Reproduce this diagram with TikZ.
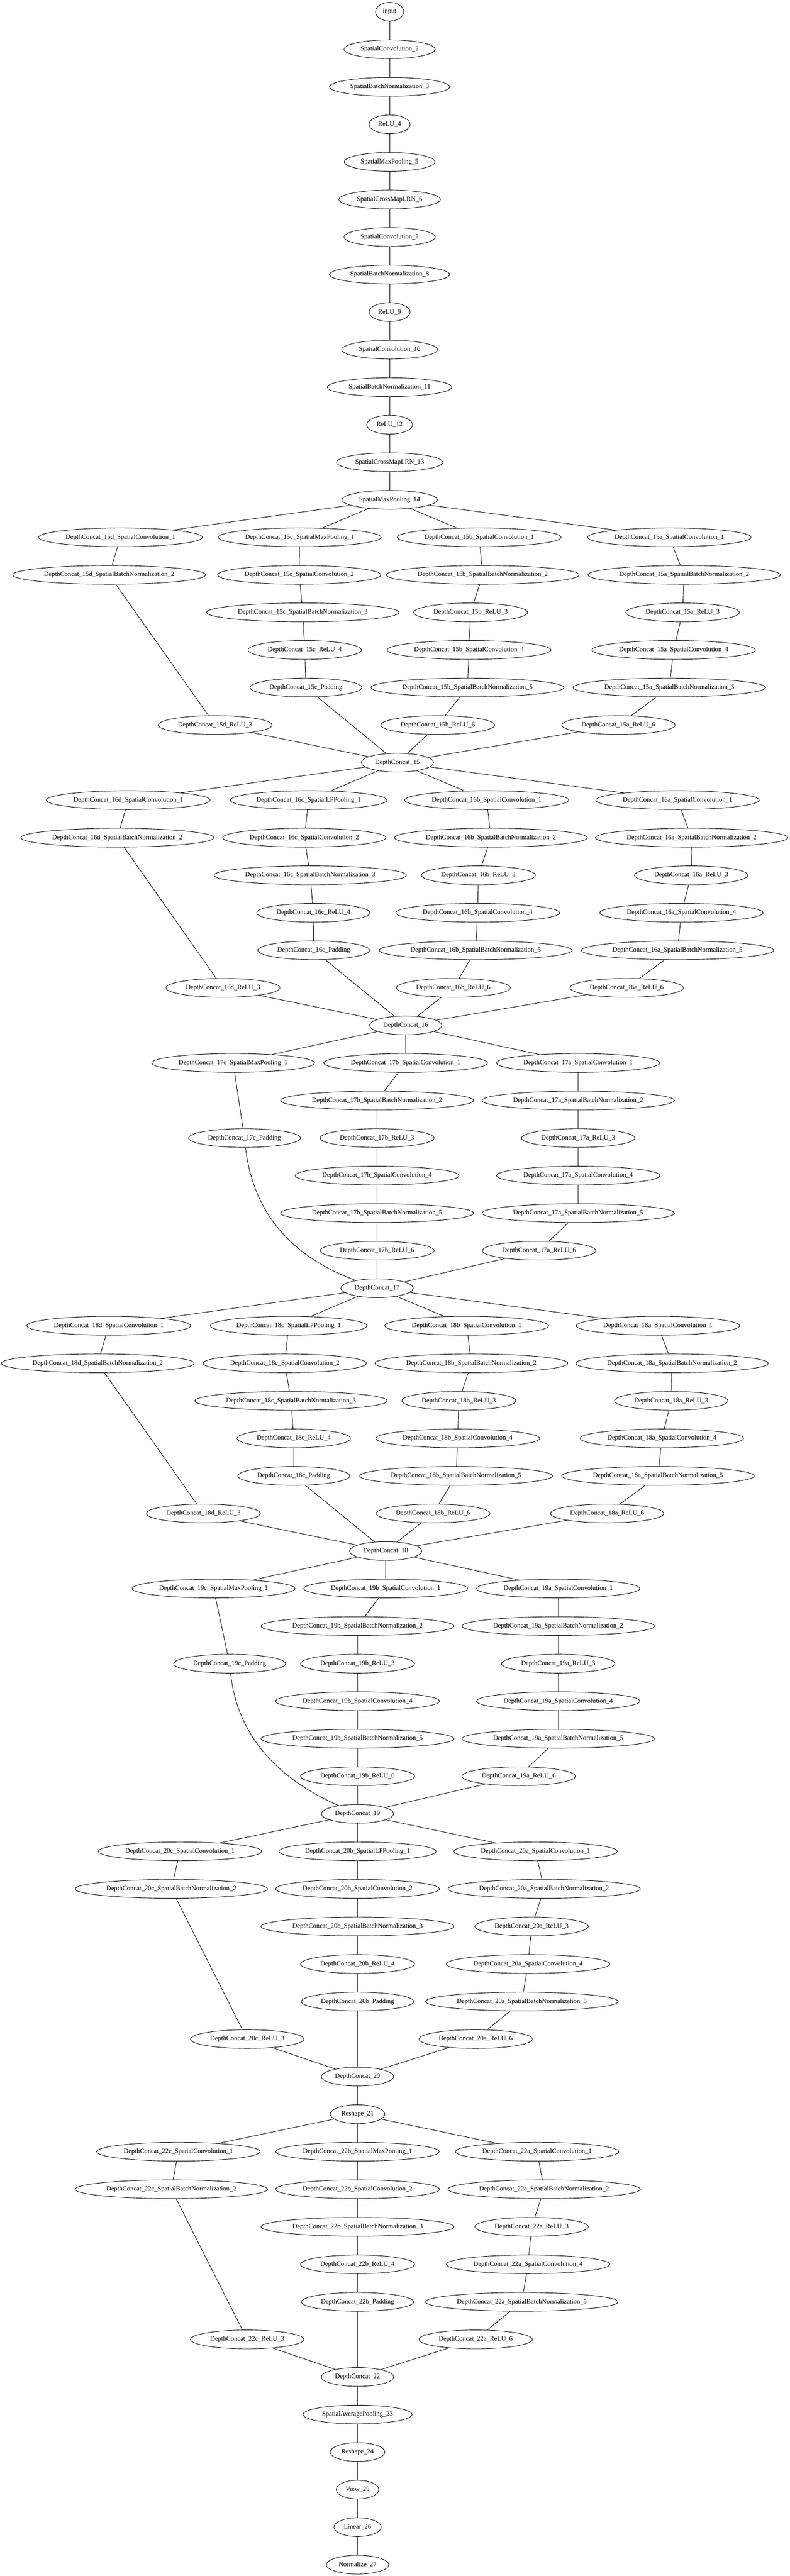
\documentclass[tikz,border=0pt]{standalone}
\usepackage{fontspec}
\setmainfont{Liberation Serif}
\usetikzlibrary{shapes.geometric}
\tikzset{
  op/.style={draw, ellipse, line width=0.9pt, minimum height=36pt, minimum width=54pt,
    inner xsep=6pt, inner ysep=0pt, font=\fontsize{12.7}{14}\selectfont},
  link/.style={line width=0.9pt}
}
\begin{document}
\begin{tikzpicture}[x=0.75pt, y=-72pt]
\useasboundingbox (0,-0.3125) rectangle (2019,68.302);
% stem
\node[op] (in) at (996,0) {input};
\node[op] (sc2) at (996,1) {SpatialConvolution\_2};
\node[op] (bn3) at (996,2) {SpatialBatchNormalization\_3};
\node[op] (re4) at (996,3) {ReLU\_4};
\node[op] (mp5) at (996,4) {SpatialMaxPooling\_5};
\node[op] (lrn6) at (996,5) {SpatialCrossMapLRN\_6};
\node[op] (sc7) at (996,6) {SpatialConvolution\_7};
\node[op] (bn8) at (996,7) {SpatialBatchNormalization\_8};
\node[op] (re9) at (996,8) {ReLU\_9};
\node[op] (sc10) at (996,9) {SpatialConvolution\_10};
\node[op] (bn11) at (996,10) {SpatialBatchNormalization\_11};
\node[op] (re12) at (996,11) {ReLU\_12};
\node[op] (lrn13) at (996,12) {SpatialCrossMapLRN\_13};
\node[op] (mp14) at (996,13) {SpatialMaxPooling\_14};
\draw[link] (in) -- (sc2) -- (bn3) -- (re4) -- (mp5) -- (lrn6) -- (sc7) -- (bn8) -- (re9) -- (sc10) -- (bn11) -- (re12) -- (lrn13) -- (mp14);

% block 15
\node[op] (n15d1) at (308,14) {DepthConcat\_15d\_SpatialConvolution\_1};
\node[op] (n15d2) at (279,15) {DepthConcat\_15d\_SpatialBatchNormalization\_2};
\node[op] (n15d3) at (550,19) {DepthConcat\_15d\_ReLU\_3};
\node[op] (n15c1) at (766,14) {DepthConcat\_15c\_SpatialMaxPooling\_1};
\node[op] (n15c2) at (765,15) {DepthConcat\_15c\_SpatialConvolution\_2};
\node[op] (n15c3) at (774,16) {DepthConcat\_15c\_SpatialBatchNormalization\_3};
\node[op] (n15c4) at (779,17) {DepthConcat\_15c\_ReLU\_4};
\node[op] (n15cp) at (782,18) {DepthConcat\_15c\_Padding};
\node[op] (n15b1) at (1225,14) {DepthConcat\_15b\_SpatialConvolution\_1};
\node[op] (n15b2) at (1234,15) {DepthConcat\_15b\_SpatialBatchNormalization\_2};
\node[op] (n15b3) at (1203,16) {DepthConcat\_15b\_ReLU\_3};
\node[op] (n15b4) at (1199,17) {DepthConcat\_15b\_SpatialConvolution\_4};
\node[op] (n15b5) at (1195,18) {DepthConcat\_15b\_SpatialBatchNormalization\_5};
\node[op] (n15b6) at (1119,19) {DepthConcat\_15b\_ReLU\_6};
\node[op] (n15a1) at (1711,14) {DepthConcat\_15a\_SpatialConvolution\_1};
\node[op] (n15a2) at (1749,15) {DepthConcat\_15a\_SpatialBatchNormalization\_2};
\node[op] (n15a3) at (1745,16) {DepthConcat\_15a\_ReLU\_3};
\node[op] (n15a4) at (1722,17) {DepthConcat\_15a\_SpatialConvolution\_4};
\node[op] (n15a5) at (1711,18) {DepthConcat\_15a\_SpatialBatchNormalization\_5};
\node[op] (n15a6) at (1581,19) {DepthConcat\_15a\_ReLU\_6};
\node[op] (dc15) at (1016,20) {DepthConcat\_15};
\draw[link] (mp14) -- (n15d1) -- (n15d2) -- (n15d3) -- (dc15);
\draw[link] (mp14) -- (n15c1) -- (n15c2) -- (n15c3) -- (n15c4) -- (n15cp) -- (dc15);
\draw[link] (mp14) -- (n15b1) -- (n15b2) -- (n15b3) -- (n15b4) -- (n15b5) -- (n15b6) -- (dc15);
\draw[link] (mp14) -- (n15a1) -- (n15a2) -- (n15a3) -- (n15a4) -- (n15a5) -- (n15a6) -- (dc15);

% block 16
\node[op] (n16d1) at (328,21) {DepthConcat\_16d\_SpatialConvolution\_1};
\node[op] (n16d2) at (300,22) {DepthConcat\_16d\_SpatialBatchNormalization\_2};
\node[op] (n16d3) at (570,26) {DepthConcat\_16d\_ReLU\_3};
\node[op] (n16c1) at (789,21) {DepthConcat\_16c\_SpatialLPPooling\_1};
\node[op] (n16c2) at (778,22) {DepthConcat\_16c\_SpatialConvolution\_2};
\node[op] (n16c3) at (793,23) {DepthConcat\_16c\_SpatialBatchNormalization\_3};
\node[op] (n16c4) at (801,24) {DepthConcat\_16c\_ReLU\_4};
\node[op] (n16cp) at (802,25) {DepthConcat\_16c\_Padding};
\node[op] (n16b1) at (1244,21) {DepthConcat\_16b\_SpatialConvolution\_1};
\node[op] (n16b2) at (1255,22) {DepthConcat\_16b\_SpatialBatchNormalization\_2};
\node[op] (n16b3) at (1223,23) {DepthConcat\_16b\_ReLU\_3};
\node[op] (n16b4) at (1221,24) {DepthConcat\_16b\_SpatialConvolution\_4};
\node[op] (n16b5) at (1216,25) {DepthConcat\_16b\_SpatialBatchNormalization\_5};
\node[op] (n16b6) at (1159,26) {DepthConcat\_16b\_ReLU\_6};
\node[op] (n16a1) at (1732,21) {DepthConcat\_16a\_SpatialConvolution\_1};
\node[op] (n16a2) at (1768,22) {DepthConcat\_16a\_SpatialBatchNormalization\_2};
\node[op] (n16a3) at (1767,23) {DepthConcat\_16a\_ReLU\_3};
\node[op] (n16a4) at (1742,24) {DepthConcat\_16a\_SpatialConvolution\_4};
\node[op] (n16a5) at (1732,25) {DepthConcat\_16a\_SpatialBatchNormalization\_5};
\node[op] (n16a6) at (1602,26) {DepthConcat\_16a\_ReLU\_6};
\node[op] (dc16) at (1037,27) {DepthConcat\_16};
\draw[link] (dc15) -- (n16d1) -- (n16d2) -- (n16d3) -- (dc16);
\draw[link] (dc15) -- (n16c1) -- (n16c2) -- (n16c3) -- (n16c4) -- (n16cp) -- (dc16);
\draw[link] (dc15) -- (n16b1) -- (n16b2) -- (n16b3) -- (n16b4) -- (n16b5) -- (n16b6) -- (dc16);
\draw[link] (dc15) -- (n16a1) -- (n16a2) -- (n16a3) -- (n16a4) -- (n16a5) -- (n16a6) -- (dc16);

% block 17
\node[op] (n17c1) at (596,28) {DepthConcat\_17c\_SpatialMaxPooling\_1};
\node[op] (n17cp) at (625,30) {DepthConcat\_17c\_Padding};
\node[op] (n17b1) at (1037,28) {DepthConcat\_17b\_SpatialConvolution\_1};
\node[op] (n17b2) at (964,29) {DepthConcat\_17b\_SpatialBatchNormalization\_2};
\node[op] (n17b3) at (964,30) {DepthConcat\_17b\_ReLU\_3};
\node[op] (n17b4) at (964,31) {DepthConcat\_17b\_SpatialConvolution\_4};
\node[op] (n17b5) at (964,32) {DepthConcat\_17b\_SpatialBatchNormalization\_5};
\node[op] (n17b6) at (964,33) {DepthConcat\_17b\_ReLU\_6};
\node[op] (n17a1) at (1478,28) {DepthConcat\_17a\_SpatialConvolution\_1};
\node[op] (n17a2) at (1478,29) {DepthConcat\_17a\_SpatialBatchNormalization\_2};
\node[op] (n17a3) at (1478,30) {DepthConcat\_17a\_ReLU\_3};
\node[op] (n17a4) at (1478,31) {DepthConcat\_17a\_SpatialConvolution\_4};
\node[op] (n17a5) at (1478,32) {DepthConcat\_17a\_SpatialBatchNormalization\_5};
\node[op] (n17a6) at (1378,33) {DepthConcat\_17a\_ReLU\_6};
\node[op] (dc17) at (964,34) {DepthConcat\_17};
\draw[link] (dc16) -- (n17c1) -- (n17cp);
\draw[link] (n17cp) .. controls (650,32.3) and (780,33.3) .. (dc17);
\draw[link] (dc16) -- (n17b1) -- (n17b2) -- (n17b3) -- (n17b4) -- (n17b5) -- (n17b6) -- (dc17);
\draw[link] (dc16) -- (n17a1) -- (n17a2) -- (n17a3) -- (n17a4) -- (n17a5) -- (n17a6) -- (dc17);

% block 18
\node[op] (n18d1) at (278,35) {DepthConcat\_18d\_SpatialConvolution\_1};
\node[op] (n18d2) at (250,36) {DepthConcat\_18d\_SpatialBatchNormalization\_2};
\node[op] (n18d3) at (520,40) {DepthConcat\_18d\_ReLU\_3};
\node[op] (n18c1) at (738,35) {DepthConcat\_18c\_SpatialLPPooling\_1};
\node[op] (n18c2) at (728,36) {DepthConcat\_18c\_SpatialConvolution\_2};
\node[op] (n18c3) at (744,37) {DepthConcat\_18c\_SpatialBatchNormalization\_3};
\node[op] (n18c4) at (751,38) {DepthConcat\_18c\_ReLU\_4};
\node[op] (n18cp) at (751,39) {DepthConcat\_18c\_Padding};
\node[op] (n18b1) at (1193,35) {DepthConcat\_18b\_SpatialConvolution\_1};
\node[op] (n18b2) at (1205,36) {DepthConcat\_18b\_SpatialBatchNormalization\_2};
\node[op] (n18b3) at (1173,37) {DepthConcat\_18b\_ReLU\_3};
\node[op] (n18b4) at (1170,38) {DepthConcat\_18b\_SpatialConvolution\_4};
\node[op] (n18b5) at (1166,39) {DepthConcat\_18b\_SpatialBatchNormalization\_5};
\node[op] (n18b6) at (1107,40) {DepthConcat\_18b\_ReLU\_6};
\node[op] (n18a1) at (1682,35) {DepthConcat\_18a\_SpatialConvolution\_1};
\node[op] (n18a2) at (1718,36) {DepthConcat\_18a\_SpatialBatchNormalization\_2};
\node[op] (n18a3) at (1716,37) {DepthConcat\_18a\_ReLU\_3};
\node[op] (n18a4) at (1692,38) {DepthConcat\_18a\_SpatialConvolution\_4};
\node[op] (n18a5) at (1682,39) {DepthConcat\_18a\_SpatialBatchNormalization\_5};
\node[op] (n18a6) at (1552,40) {DepthConcat\_18a\_ReLU\_6};
\node[op] (dc18) at (986,41) {DepthConcat\_18};
\draw[link] (dc17) -- (n18d1) -- (n18d2) -- (n18d3) -- (dc18);
\draw[link] (dc17) -- (n18c1) -- (n18c2) -- (n18c3) -- (n18c4) -- (n18cp) -- (dc18);
\draw[link] (dc17) -- (n18b1) -- (n18b2) -- (n18b3) -- (n18b4) -- (n18b5) -- (n18b6) -- (dc18);
\draw[link] (dc17) -- (n18a1) -- (n18a2) -- (n18a3) -- (n18a4) -- (n18a5) -- (n18a6) -- (dc18);

% block 19
\node[op] (n19c1) at (546,42) {DepthConcat\_19c\_SpatialMaxPooling\_1};
\node[op] (n19cp) at (587,44) {DepthConcat\_19c\_Padding};
\node[op] (n19b1) at (986,42) {DepthConcat\_19b\_SpatialConvolution\_1};
\node[op] (n19b2) at (914,43) {DepthConcat\_19b\_SpatialBatchNormalization\_2};
\node[op] (n19b3) at (914,44) {DepthConcat\_19b\_ReLU\_3};
\node[op] (n19b4) at (914,45) {DepthConcat\_19b\_SpatialConvolution\_4};
\node[op] (n19b5) at (914,46) {DepthConcat\_19b\_SpatialBatchNormalization\_5};
\node[op] (n19b6) at (914,47) {DepthConcat\_19b\_ReLU\_6};
\node[op] (n19a1) at (1427,42) {DepthConcat\_19a\_SpatialConvolution\_1};
\node[op] (n19a2) at (1427,43) {DepthConcat\_19a\_SpatialBatchNormalization\_2};
\node[op] (n19a3) at (1427,44) {DepthConcat\_19a\_ReLU\_3};
\node[op] (n19a4) at (1427,45) {DepthConcat\_19a\_SpatialConvolution\_4};
\node[op] (n19a5) at (1427,46) {DepthConcat\_19a\_SpatialBatchNormalization\_5};
\node[op] (n19a6) at (1326,47) {DepthConcat\_19a\_ReLU\_6};
\node[op] (dc19) at (914,48) {DepthConcat\_19};
\draw[link] (dc18) -- (n19c1) -- (n19cp);
\draw[link] (n19cp) .. controls (610,46.3) and (760,47.3) .. (dc19);
\draw[link] (dc18) -- (n19b1) -- (n19b2) -- (n19b3) -- (n19b4) -- (n19b5) -- (n19b6) -- (dc19);
\draw[link] (dc18) -- (n19a1) -- (n19a2) -- (n19a3) -- (n19a4) -- (n19a5) -- (n19a6) -- (dc19);

% block 20
\node[op] (n20c1) at (460,49) {DepthConcat\_20c\_SpatialConvolution\_1};
\node[op] (n20c2) at (438,50) {DepthConcat\_20c\_SpatialBatchNormalization\_2};
\node[op] (n20c3) at (632,54) {DepthConcat\_20c\_ReLU\_3};
\node[op] (n20b1) at (914,49) {DepthConcat\_20b\_SpatialLPPooling\_1};
\node[op] (n20b2) at (914,50) {DepthConcat\_20b\_SpatialConvolution\_2};
\node[op] (n20b3) at (914,51) {DepthConcat\_20b\_SpatialBatchNormalization\_3};
\node[op] (n20b4) at (914,52) {DepthConcat\_20b\_ReLU\_4};
\node[op] (n20bp) at (914,53) {DepthConcat\_20b\_Padding};
\node[op] (n20a1) at (1369,49) {DepthConcat\_20a\_SpatialConvolution\_1};
\node[op] (n20a2) at (1391,50) {DepthConcat\_20a\_SpatialBatchNormalization\_2};
\node[op] (n20a3) at (1359,51) {DepthConcat\_20a\_ReLU\_3};
\node[op] (n20a4) at (1350,52) {DepthConcat\_20a\_SpatialConvolution\_4};
\node[op] (n20a5) at (1334,53) {DepthConcat\_20a\_SpatialBatchNormalization\_5};
\node[op] (n20a6) at (1216,54) {DepthConcat\_20a\_ReLU\_6};
\node[op] (dc20) at (914,55) {DepthConcat\_20};
\node[op] (rs21) at (914,56) {Reshape\_21};
\draw[link] (dc19) -- (n20c1) -- (n20c2) -- (n20c3) -- (dc20);
\draw[link] (dc19) -- (n20b1) -- (n20b2) -- (n20b3) -- (n20b4) -- (n20bp) -- (dc20);
\draw[link] (dc19) -- (n20a1) -- (n20a2) -- (n20a3) -- (n20a4) -- (n20a5) -- (n20a6) -- (dc20);
\draw[link] (dc20) -- (rs21);

% block 22
\node[op] (n22c1) at (456,57) {DepthConcat\_22c\_SpatialConvolution\_1};
\node[op] (n22c2) at (438,58) {DepthConcat\_22c\_SpatialBatchNormalization\_2};
\node[op] (n22c3) at (632,62) {DepthConcat\_22c\_ReLU\_3};
\node[op] (n22b1) at (914,57) {DepthConcat\_22b\_SpatialMaxPooling\_1};
\node[op] (n22b2) at (914,58) {DepthConcat\_22b\_SpatialConvolution\_2};
\node[op] (n22b3) at (914,59) {DepthConcat\_22b\_SpatialBatchNormalization\_3};
\node[op] (n22b4) at (914,60) {DepthConcat\_22b\_ReLU\_4};
\node[op] (n22bp) at (914,61) {DepthConcat\_22b\_Padding};
\node[op] (n22a1) at (1373,57) {DepthConcat\_22a\_SpatialConvolution\_1};
\node[op] (n22a2) at (1391,58) {DepthConcat\_22a\_SpatialBatchNormalization\_2};
\node[op] (n22a3) at (1359,59) {DepthConcat\_22a\_ReLU\_3};
\node[op] (n22a4) at (1350,60) {DepthConcat\_22a\_SpatialConvolution\_4};
\node[op] (n22a5) at (1334,61) {DepthConcat\_22a\_SpatialBatchNormalization\_5};
\node[op] (n22a6) at (1216,62) {DepthConcat\_22a\_ReLU\_6};
\node[op] (dc22) at (914,63) {DepthConcat\_22};
\draw[link] (rs21) -- (n22c1) -- (n22c2) -- (n22c3) -- (dc22);
\draw[link] (rs21) -- (n22b1) -- (n22b2) -- (n22b3) -- (n22b4) -- (n22bp) -- (dc22);
\draw[link] (rs21) -- (n22a1) -- (n22a2) -- (n22a3) -- (n22a4) -- (n22a5) -- (n22a6) -- (dc22);

% head
\node[op] (ap23) at (914,64) {SpatialAveragePooling\_23};
\node[op] (rs24) at (914,65) {Reshape\_24};
\node[op] (vw25) at (914,66) {View\_25};
\node[op] (li26) at (914,67) {Linear\_26};
\node[op] (nm27) at (914,68) {Normalize\_27};
\draw[link] (dc22) -- (ap23) -- (rs24) -- (vw25) -- (li26) -- (nm27);
\end{tikzpicture}
\end{document}
